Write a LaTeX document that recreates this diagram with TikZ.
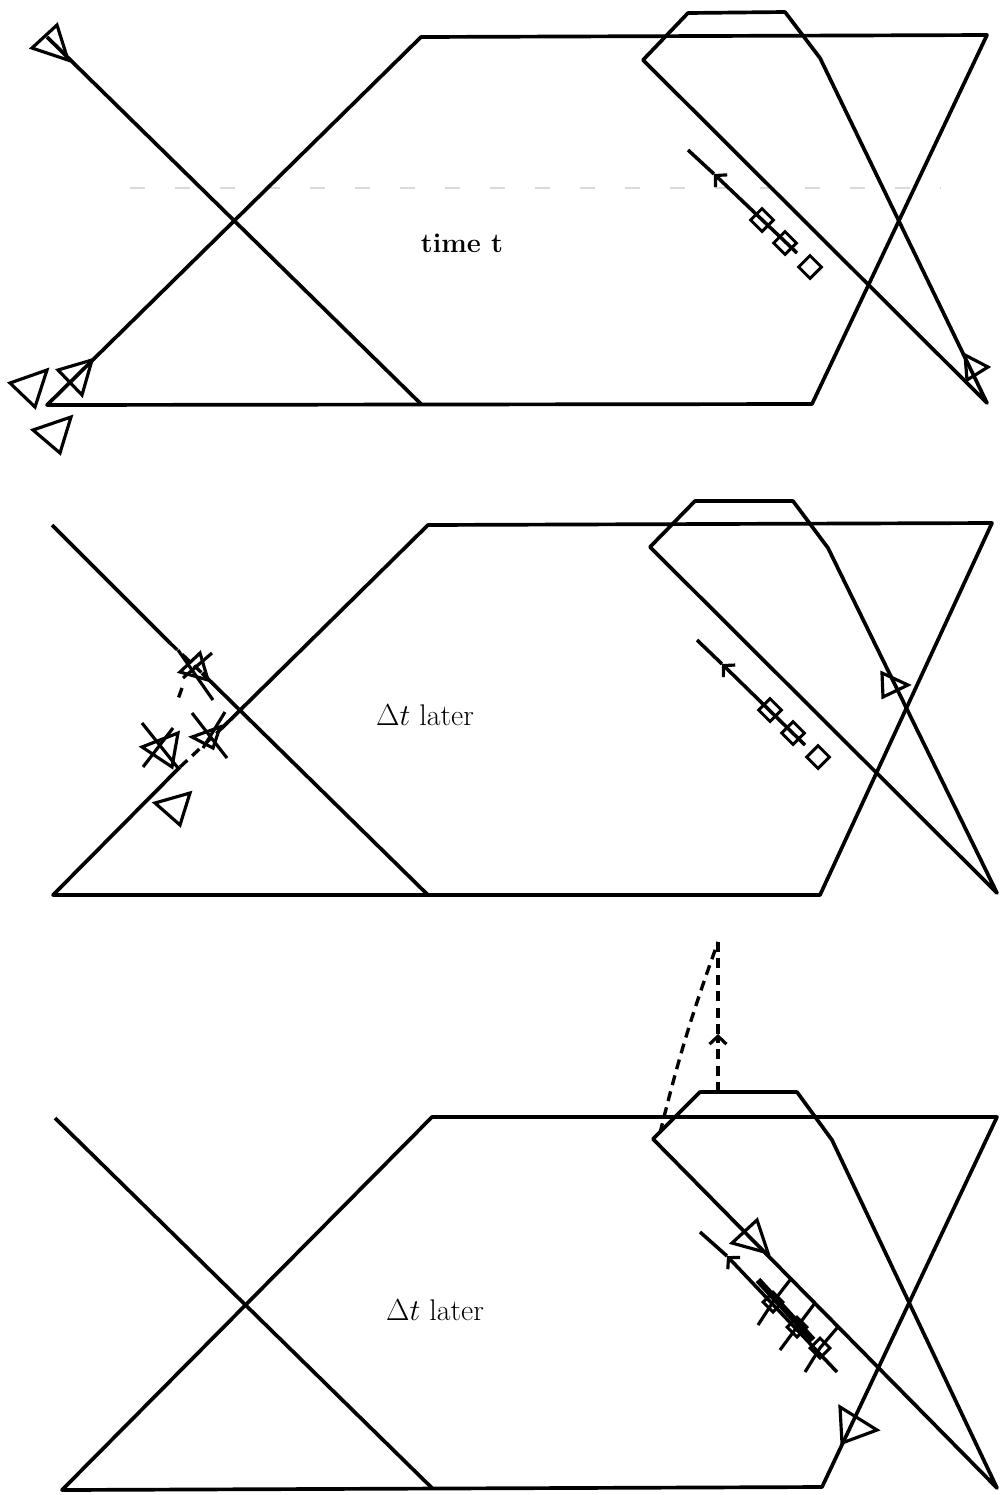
\documentclass[tikz,border=0pt]{standalone}
\usetikzlibrary{arrows.meta,shapes.geometric}

\tikzset{
    wire/.style={line width=2.1pt, line join=round},   % boundaries and rays
    hit/.style={line width=1.8pt, line join=miter},    % open triangles and crosses
    pad/.style={diamond, draw, line width=1.7pt, minimum size=0.48cm, inner sep=0pt},
    trk/.style={line width=2pt},
    barb/.style={-{Straight Barb[length=0.16cm,width=0.34cm,line width=1.8pt]}},
    dsh/.style={line width=1.9pt, dash pattern=on 0.2cm off 0.13cm},
    lbl/.style={font=\fontsize{17}{20}\selectfont}
}

\begin{document}
\begin{tikzpicture}[x=0.02cm, y=-0.02cm]
\useasboundingbox (0,0) rectangle (1002,1495);

%% ---- time t ----
\draw[black!15, line width=0.6pt, dash pattern=on 0.3cm off 0.6cm] (130,188) -- (940,188);
\draw[wire] (47,405) -- (421,37) -- (987,35) -- (812,404) -- cycle;
\draw[wire] (47,37) -- (421,404);
\draw[wire] (643,60) -- (688,13) -- (785,12) -- (820,58) -- (987,403) -- cycle;
\draw[hit] (32,48) -- (57,25) -- (68,60) -- cycle;
\draw[hit] (10,383) -- (47,370) -- (35,407) -- cycle;
\draw[hit] (58,370) -- (92,360) -- (82,395) -- cycle;
\draw[hit] (33,430) -- (71,417) -- (60,453) -- cycle;
\draw[hit] (965,355) -- (988,367) -- (967,380) -- cycle;
\coordinate (s1) at (797,253);
\coordinate (a1) at (714,174);
\draw[trk, barb] (s1) -- (a1);
\draw[trk] (a1) -- (688,150);
\node[pad] (p1a) at (762,220) {};
\node[pad] (p1b) at (785,243) {};
\node[pad] (p1c) at (810,267) {};
\node[font=\bfseries\fontsize{15.5}{18}\selectfont] (tt) at (462,243) {time t};

%% ---- first Delta t ----
\draw[wire] (180,767) -- (53,895) -- (820,895) -- (992,523) -- (428,525) -- (222,728);
\draw[dsh] (180,767) -- (222,728);
\draw[wire] (52,525) -- (170,643);
\draw[dsh] (170,643) -- (202,673);
\draw[wire] (202,673) -- (428,895);
\draw[wire] (650,547) -- (695,501) -- (793,501) -- (828,548) -- (997,893) -- cycle;
% smeared hits near the crossing
\draw[hit] (180,672) -- (200,653) -- (208,680) -- cycle;
\draw[hit] (178,650) -- (213,700) (212,653) -- (183,678);
\draw[dsh] (182,688) -- (177,702);
\draw[hit] (192,737) -- (220,727) -- (213,748) -- cycle;
\draw[hit] (192,713) -- (227,758) (225,712) -- (203,748);
\draw[hit] (142,747) -- (178,733) -- (172,767) -- cycle;
\draw[hit] (142,723) -- (178,768) (173,728) -- (143,767);
\draw[hit] (155,803) -- (190,793) -- (180,825) -- cycle;
\draw[hit] (882,673) -- (908,685) -- (883,697) -- cycle;
\coordinate (s2) at (805,745);
\coordinate (a2) at (722,664);
\draw[trk, barb] (s2) -- (a2);
\draw[trk] (a2) -- (697,640);
\node[pad] (p2a) at (770,710) {};
\node[pad] (p2b) at (793,733) {};
\node[pad] (p2c) at (818,757) {};
\node[lbl] (dt1) at (425,715) {$\Delta t$ later};

%% ---- second Delta t ----
\draw[wire] (62,1490) -- (432,1117) -- (997,1117) -- (822,1487) -- cycle;
\draw[wire] (55,1118) -- (432,1488);
\draw[wire] (653,1139) -- (700,1092) -- (797,1092) -- (832,1140) -- (997,1488) -- cycle;
\coordinate (top) at (718,942);
\coordinate (a3) at (718,1034);
\draw[dsh] (660,1133) to[bend left=3] (top);
\draw[dsh, barb] (718,1092) -- (a3);
\draw[dsh] (a3) -- (top);
\draw[hit] (757,1220) -- (732,1243) -- (768,1253) -- cycle;
\draw[hit] (840,1407) -- (877,1430) -- (842,1443) -- cycle;
\coordinate (s3) at (837,1372);
\coordinate (a4) at (727,1256);
\draw[trk, barb] (s3) -- (a4);
\draw[trk] (a4) -- (700,1232);
\draw[line width=3.6pt] (758,1280) -- (813,1340);
\node[pad, minimum size=0.42cm] (p3a) at (773,1302) {};
\node[pad, minimum size=0.42cm] (p3b) at (797,1327) {};
\node[pad, minimum size=0.42cm] (p3c) at (820,1348) {};
\draw[hit] (758,1325) -- (p3a.center) -- (790,1280);
\draw[hit] (780,1350) -- (p3b.center) -- (815,1303);
\draw[hit] (805,1372) -- (p3c.center) -- (837,1328);
\node[lbl] (dt2) at (435,1310) {$\Delta t$ later};
\end{tikzpicture}
\end{document}
